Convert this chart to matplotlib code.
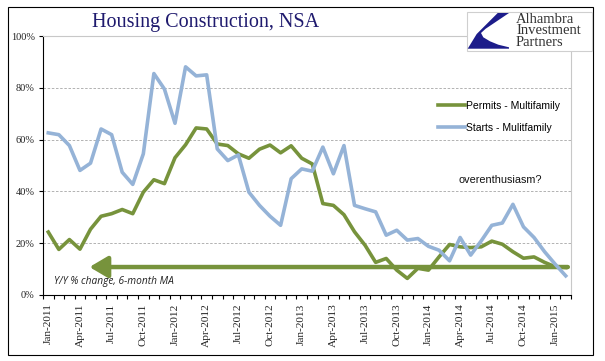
import matplotlib.pyplot as plt
from matplotlib.patches import Rectangle, Polygon
from matplotlib.ticker import FixedLocator, MultipleLocator

# Monthly data, Jan-2011 .. Feb-2015 (Y/Y % change, 6-month MA)
months = ['Jan-2011', 'Feb-2011', 'Mar-2011', 'Apr-2011', 'May-2011', 'Jun-2011',
          'Jul-2011', 'Aug-2011', 'Sep-2011', 'Oct-2011', 'Nov-2011', 'Dec-2011',
          'Jan-2012', 'Feb-2012', 'Mar-2012', 'Apr-2012', 'May-2012', 'Jun-2012',
          'Jul-2012', 'Aug-2012', 'Sep-2012', 'Oct-2012', 'Nov-2012', 'Dec-2012',
          'Jan-2013', 'Feb-2013', 'Mar-2013', 'Apr-2013', 'May-2013', 'Jun-2013',
          'Jul-2013', 'Aug-2013', 'Sep-2013', 'Oct-2013', 'Nov-2013', 'Dec-2013',
          'Jan-2014', 'Feb-2014', 'Mar-2014', 'Apr-2014', 'May-2014', 'Jun-2014',
          'Jul-2014', 'Aug-2014', 'Sep-2014', 'Oct-2014', 'Nov-2014', 'Dec-2014',
          'Jan-2015', 'Feb-2015']
permits = [24.3, 17.6, 21.4, 17.7, 25.4, 30.4, 31.4, 33.0, 31.4, 39.7, 44.5, 43.0,
           53.0, 58.0, 64.5, 64.1, 58.3, 57.7, 54.5, 52.8, 56.3, 57.9, 54.9, 57.6,
           52.8, 50.6, 35.3, 34.6, 31.0, 24.4, 19.2, 12.6, 14.1, 9.6, 6.4, 10.3,
           9.6, 14.7, 19.5, 18.6, 18.3, 18.6, 20.8, 19.6, 16.7, 14.2, 14.7, 12.6,
           10.9, 10.6]
starts = [62.6, 61.9, 57.7, 48.1, 50.9, 64.1, 61.9, 47.4, 42.7, 54.5, 85.5, 79.5,
          66.3, 88.1, 84.6, 85.0, 56.4, 51.9, 54.1, 39.7, 34.6, 30.4, 26.9, 44.9,
          48.7, 47.8, 57.1, 46.8, 57.7, 34.6, 33.3, 32.1, 23.1, 25.0, 21.2, 21.8,
          18.8, 17.3, 13.2, 22.2, 15.4, 20.9, 26.9, 27.8, 35.0, 26.3, 22.2, 16.7,
          11.9, 7.4]
yticks = [0, 20, 40, 60, 80, 100]
arrow_level = 10.8

W, H = 605, 361
GREEN = '#77933c'
BLUE = '#95b3d7'


def px(x, y):
    return x / W, 1 - y / H


fig = plt.figure(figsize=(W / 100, H / 100), dpi=100)

# outer frame
fig.patches.append(Rectangle(px(8, 355), 585 / W, 348 / H, transform=fig.transFigure,
                             fill=False, edgecolor='black', linewidth=0.8))

ax = fig.add_axes([43 / W, 1 - 295 / H, (571 - 43) / W, (295 - 36) / H])
x = list(range(len(months)))
ax.plot(x, permits, color=GREEN, lw=2.6, label='Permits - Multifamily', zorder=3)
ax.plot(x, starts, color=BLUE, lw=2.6, label='Starts - Mulitfamily', zorder=3)

ax.set_xlim(-0.5, len(months) - 0.5)
ax.set_ylim(0, 100)

# arrow back to the 2011 level
ax.annotate('', xy=(3.9, arrow_level), xytext=(49.2, arrow_level),
            arrowprops=dict(arrowstyle='-|>,head_length=1.1,head_width=0.65',
                            color=GREEN, lw=3.2, shrinkA=0, shrinkB=0), zorder=2)

ax.text(0.5, 4.2, 'Y/Y % change, 6-month MA', fontsize=7.3, style='italic',
        family='Open Sans', color='#222222')
ax.text(38.8, 43.2, 'overenthusiasm?', fontsize=7.8, family='Liberation Sans',
        color='#111111')

# grid
for v in yticks[1:-1]:
    ax.axhline(v, color='#a6a6a6', lw=0.6, ls=(0, (3, 2)), zorder=1)

for s in ['top', 'right']:
    ax.spines[s].set_color('#c8c8c8')
    ax.spines[s].set_linewidth(0.8)
for s in ['left', 'bottom']:
    ax.spines[s].set_color('black')
    ax.spines[s].set_linewidth(0.8)

ax.yaxis.set_major_locator(FixedLocator(yticks))
ax.set_yticklabels(['%d%%' % v for v in yticks])
ax.xaxis.set_major_locator(FixedLocator(x[::3]))
ax.set_xticklabels(months[::3], rotation=90)
ax.xaxis.set_minor_locator(MultipleLocator(1, offset=0.5))
ax.tick_params(axis='x', which='major', length=0, pad=6)
ax.tick_params(axis='x', which='minor', length=3, width=0.8, direction='out')
ax.tick_params(axis='y', length=3, width=0.8, pad=3)
for lab in ax.get_xticklabels():
    lab.set_fontfamily('Liberation Serif')
    lab.set_fontsize(8.2)
    lab.set_color('#222222')
for lab in ax.get_yticklabels():
    lab.set_fontfamily('Liberation Serif')
    lab.set_fontsize(7.5)
    lab.set_color('#222222')

leg = ax.legend(loc='upper left', bbox_to_anchor=(0.73, 0.785), frameon=False,
                prop={'family': 'Liberation Sans', 'size': 7.5},
                handlelength=2.6, handletextpad=0.1, labelspacing=1.15)

# title
fig.text(206 / W, 1 - 22 / H, 'Housing Construction, NSA', ha='center', va='center',
         fontsize=14.5, family='Liberation Serif', color='#1f1a6e')

# logo
fig.patches.append(Rectangle(px(467, 51), 125 / W, 39 / H, transform=fig.transFigure,
                             facecolor='white', edgecolor='#cfcfcf', linewidth=0.8, zorder=5))
swoosh = [(497.7, 13), (509, 13), (485.7, 28.7), (481, 33), (483.3, 37.3), (490, 41.3),
          (498.3, 44.7), (509, 47.3), (509, 48.7), (467.7, 48.7), (476.7, 34)]
fig.patches.append(Polygon([px(a, b) for a, b in swoosh], closed=True,
                           transform=fig.transFigure, facecolor='#1c1c8a',
                           edgecolor='none', zorder=6))
fig.text(516 / W, 1 - 31 / H, 'Alhambra\nInvestment\nPartners', ha='left', va='center',
         fontsize=10.5, family='Liberation Serif', color='#333333', linespacing=0.86,
         zorder=7)

fig.savefig('out.png', dpi=100)
